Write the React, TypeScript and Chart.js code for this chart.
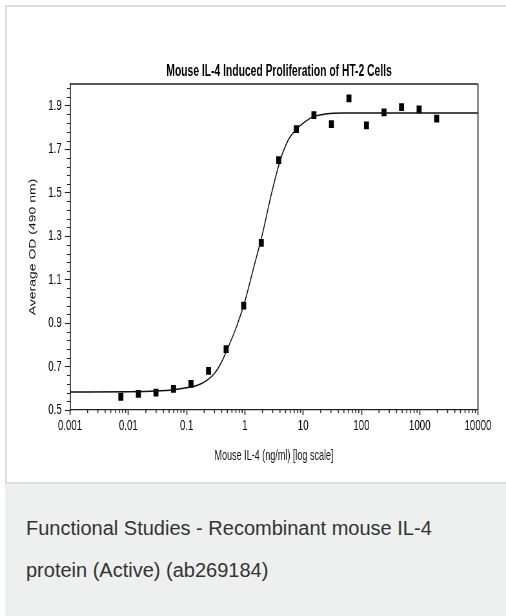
import React, { useEffect, useRef } from "react";
import { Chart, registerables } from "chart.js";

Chart.register(...registerables);

const TITLE = "Mouse IL-4 Induced Proliferation of HT-2 Cells";
const X_TITLE = "Mouse IL-4 (ng/ml) [log scale]";
const Y_TITLE = "Average OD (490 nm)";
const CAPTION = "Functional Studies - Recombinant mouse IL-4 protein (Active) (ab269184)";

// measured points (2-fold dilution series, ng/ml) and average OD
const DOSE = [0.00745, 0.0149, 0.0298, 0.0596, 0.119, 0.238, 0.477, 0.954, 1.91, 3.81, 7.63, 15.3, 30.5, 61.0, 122, 244, 488, 977, 1953];
const OD = [0.561, 0.574, 0.58, 0.597, 0.62, 0.68, 0.78, 0.98, 1.269, 1.65, 1.792, 1.857, 1.815, 1.934, 1.81, 1.869, 1.894, 1.883, 1.841];

// fitted curve
const FIT_X = [0.001, 0.01, 0.03, 0.06, 0.1, 0.15, 0.2, 0.3, 0.4, 0.5, 0.7, 1.0, 1.4, 2.0, 2.8, 4.0, 5.5, 7.7, 11, 15, 22, 33, 48, 10000];
const FIT_Y = [0.583, 0.584, 0.587, 0.593, 0.602, 0.613, 0.628, 0.668, 0.722, 0.78, 0.875, 1.0, 1.15, 1.31, 1.485, 1.645, 1.74, 1.792, 1.828, 1.85, 1.86, 1.865, 1.867, 1.867];

const X_TICKS = [0.001, 0.01, 0.1, 1, 10, 100, 1000, 10000];
const X_TICK_LABELS = ["0.001", "0.01", "0.1", "1", "10", "100", "1000", "10000"];
const X_MINOR_MULTIPLIERS = [2, 3, 4, 5, 6, 7, 8, 9];
const Y_TICKS = [0.5, 0.7, 0.9, 1.1, 1.3, 1.5, 1.7, 1.9];
const Y_TICK_LABELS = ["0.5", "0.7", "0.9", "1.1", "1.3", "1.5", "1.7", "1.9"];
const Y_MINOR_TICKS = [0.54, 0.58, 0.62, 0.66, 0.74, 0.78, 0.82, 0.86, 0.94, 0.98, 1.02, 1.06, 1.14, 1.18, 1.22, 1.26, 1.34, 1.38, 1.42, 1.46, 1.54, 1.58, 1.62, 1.66, 1.74, 1.78, 1.82, 1.86, 1.94, 1.98];

const FONT = '"Liberation Sans", Arial, sans-serif';
const LOGICAL_W = 784;
const H = 482;

const decorPlugin = {
  id: "decor",
  afterDraw(chart: any) {
    const { ctx, chartArea, scales } = chart;
    const { left, right, top, bottom } = chartArea;
    const x = scales.x;
    const y = scales.y;
    ctx.save();
    ctx.strokeStyle = "#222";
    ctx.lineWidth = 1.6;
    ctx.beginPath();
    ctx.moveTo(left, top);
    ctx.lineTo(right, top);
    ctx.stroke();
    ctx.lineWidth = 1.7;
    ctx.beginPath();
    ctx.moveTo(right, top);
    ctx.lineTo(right, bottom);
    ctx.stroke();
    ctx.lineWidth = 1;
    Y_MINOR_TICKS.forEach((v) => {
      const py = Math.round(y.getPixelForValue(v)) + 0.5;
      ctx.beginPath();
      ctx.moveTo(left - 4.5, py);
      ctx.lineTo(left, py);
      ctx.stroke();
    });
    ctx.lineWidth = 1.5;
    X_TICKS.slice(0, -1).forEach((d) => {
      X_MINOR_MULTIPLIERS.forEach((m) => {
        const px = x.getPixelForValue(d * m);
        ctx.beginPath();
        ctx.moveTo(px, bottom);
        ctx.lineTo(px, bottom + 3);
        ctx.stroke();
      });
    });
    ctx.fillStyle = "#000";
    ctx.font = `bold 16px ${FONT}`;
    ctx.textAlign = "center";
    ctx.textBaseline = "alphabetic";
    ctx.fillText(TITLE, (left + right) / 2 + 7.8, 76);
    ctx.restore();
  },
};

export default function App() {
  const ref = useRef<HTMLCanvasElement>(null);

  useEffect(() => {
    const canvas = ref.current;
    if (!canvas) return;
    const chart = new Chart(canvas, {
      type: "scatter",
      data: {
        datasets: [
          {
            label: "fit",
            data: FIT_X.map((v, i) => ({ x: v, y: FIT_Y[i] })),
            showLine: true,
            borderColor: "#111",
            borderWidth: 1.5,
            pointRadius: 0,
            cubicInterpolationMode: "monotone",
            fill: false,
          } as any,
          {
            label: "OD",
            data: DOSE.map((v, i) => ({ x: v, y: OD[i] })),
            showLine: false,
            pointStyle: "rect",
            pointRadius: 5.5,
            pointBorderWidth: 0,
            borderWidth: 0,
            backgroundColor: "#000",
            pointBackgroundColor: "#000",
          } as any,
        ],
      },
      options: {
        responsive: false,
        devicePixelRatio: 1,
        animation: false,
        events: [],
        layout: { padding: { top: 84, left: 0, right: LOGICAL_W - 740.6, bottom: 0 } },
        plugins: {
          legend: { display: false },
          tooltip: { enabled: false },
          title: { display: false },
        },
        scales: {
          x: {
            type: "logarithmic",
            min: 0.001,
            max: 10000,
            afterBuildTicks: (scale: any) => {
              scale.ticks = X_TICKS.map((v) => ({ value: v }));
            },
            afterFit: (scale: any) => {
              scale.height = H - 410;
            },
            ticks: {
              autoSkip: false,
              maxRotation: 0,
              padding: 2,
              color: "#000",
              font: { family: FONT, size: 15 },
              callback: (_v: any, i: number) => X_TICK_LABELS[i],
            },
            grid: {
              display: true,
              drawOnChartArea: false,
              drawTicks: true,
              tickLength: 5,
              tickWidth: 1.6,
              tickColor: "#222",
            },
            border: { display: true, color: "#222", width: 1.3 },
            title: {
              display: true,
              text: X_TITLE,
              color: "#111",
              font: { family: FONT, size: 14 },
              padding: { top: 0, bottom: 17.6 },
            },
          },
          y: {
            type: "linear",
            min: 0.5,
            max: 2.0,
            afterBuildTicks: (scale: any) => {
              scale.ticks = Y_TICKS.map((v) => ({ value: v }));
            },
            afterFit: (scale: any) => {
              scale.width = 108.5;
            },
            ticks: {
              autoSkip: false,
              padding: 5,
              color: "#000",
              font: { family: FONT, size: 15 },
              callback: (_v: any, i: number) => Y_TICK_LABELS[i],
            },
            grid: {
              display: true,
              drawOnChartArea: false,
              drawTicks: true,
              tickLength: 8,
              tickWidth: 1.1,
              tickColor: "#222",
            },
            border: { display: true, color: "#222", width: 1.7 },
            title: {
              display: true,
              text: Y_TITLE,
              color: "#111",
              font: { family: FONT, size: 14 },
              padding: { top: 42.6, bottom: 0 },
            },
          },
        },
      },
      plugins: [decorPlugin],
    } as any);
    return () => chart.destroy();
  }, []);

  return (
    <div
      style={{
        position: "absolute",
        left: 0,
        top: 0,
        width: 506,
        height: 616,
        overflow: "hidden",
        fontFamily: FONT,
      }}
    >
      <div
        style={{
          position: "absolute",
          left: 5,
          top: 5,
          width: 520,
          height: 479,
          boxSizing: "border-box",
          background: "#ffffff",
          borderLeft: "2px solid #dddddd",
          borderTop: "2px solid #dddddd",
          borderBottom: "2px solid #dddddd",
        }}
      />
      <div
        style={{
          position: "absolute",
          left: 5,
          top: 484,
          width: 520,
          height: 140,
          background: "#eef0f0",
        }}
      >
        <div
          style={{
            position: "absolute",
            left: 21,
            top: 23,
            width: 450,
            fontSize: 20,
            lineHeight: "42px",
            color: "#333",
          }}
        >
          {CAPTION}
        </div>
      </div>
      <canvas
        ref={ref}
        width={LOGICAL_W}
        height={H}
        style={{ position: "absolute", left: 0, top: 0, width: 506, height: H }}
      />
    </div>
  );
}
